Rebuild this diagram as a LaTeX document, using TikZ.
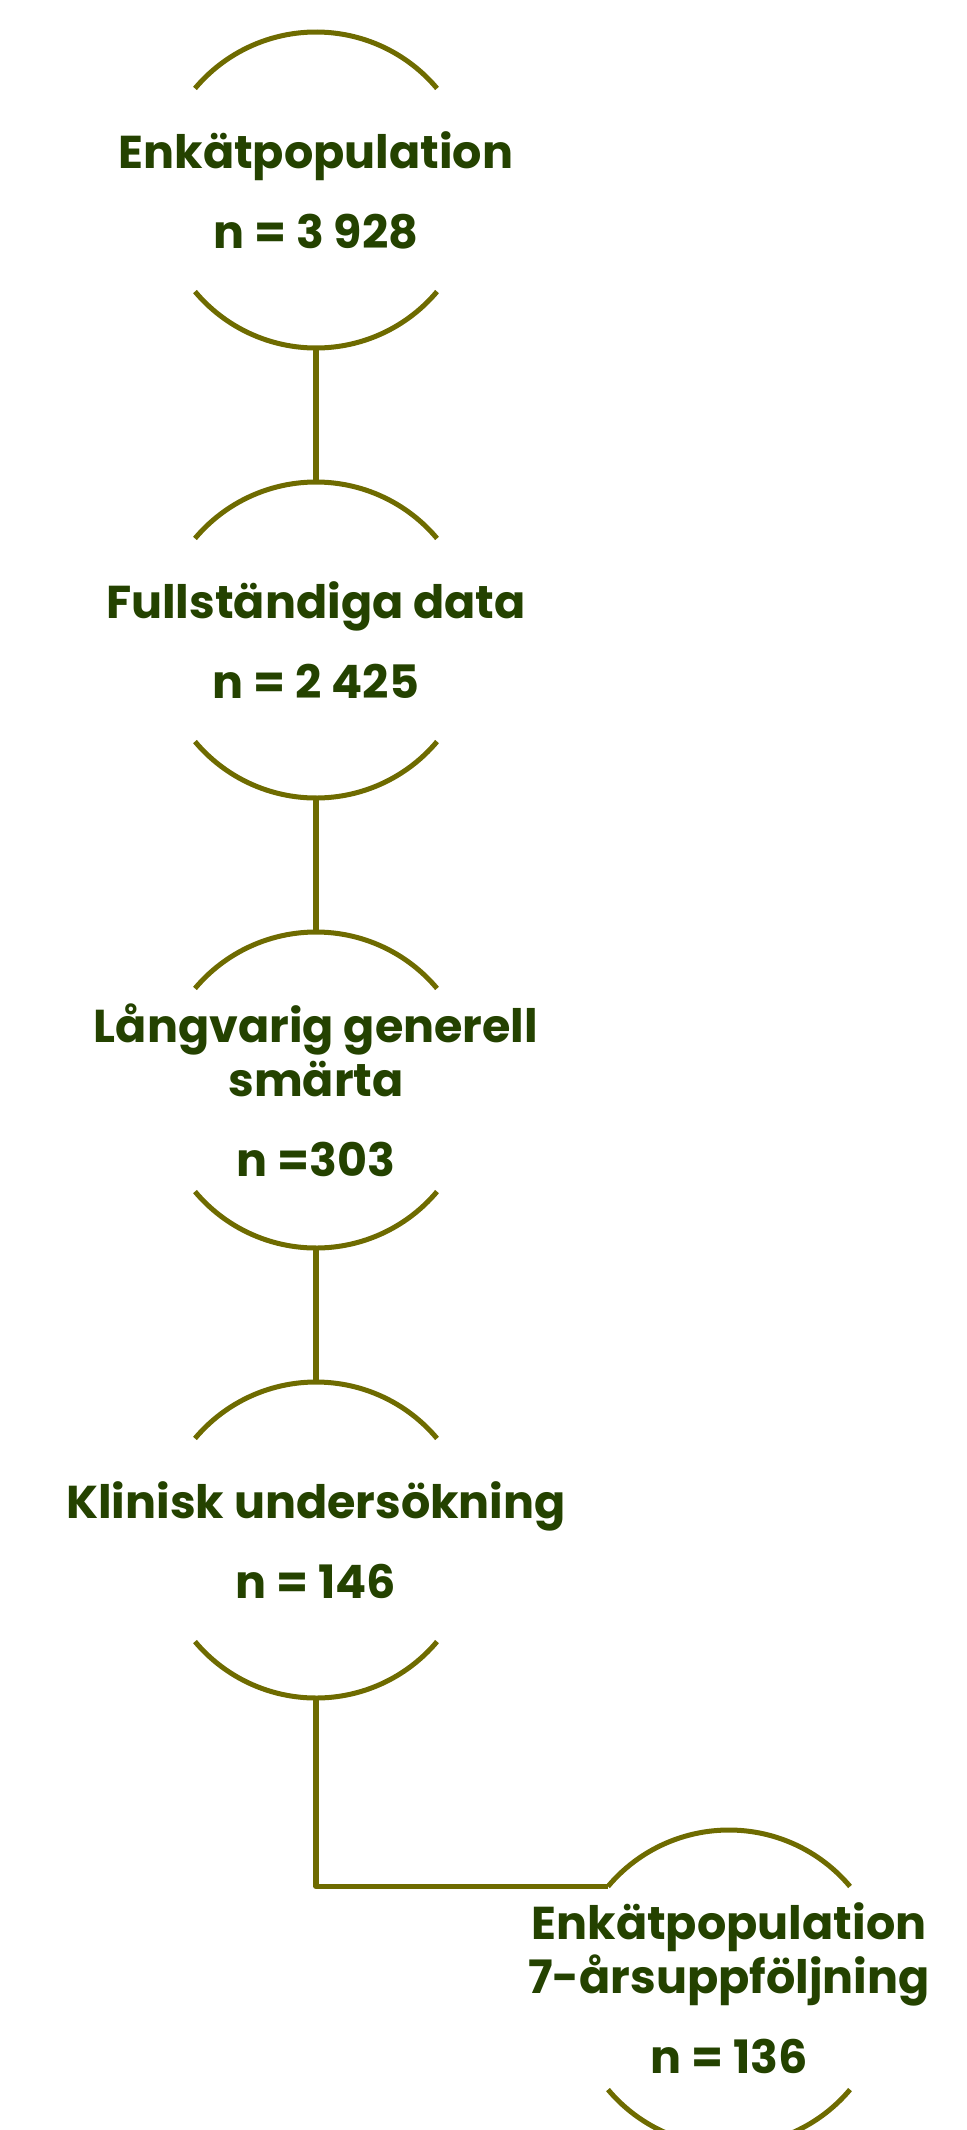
\documentclass[tikz,border=0pt]{standalone}
\usepackage{fontspec}
\setmainfont{Poppins}
\usepackage{xcolor}
\definecolor{olive-line}{HTML}{6E6B00}
\definecolor{moss}{HTML}{244200}
\usetikzlibrary{positioning}
\tikzset{
    ring/.style ={circle, minimum size = 6.32cm, inner sep=0pt, outer sep=0pt},
    rim/.style = {olive-line, line width=2.85pt},
    link/.style = {olive-line, line width=2.85pt, line join=round},
    caption/.style = {moss, font=\bfseries\fontsize{26.2}{31}\selectfont, align=center, inner sep=0pt}
}

\begin{document}
\begin{tikzpicture}
      \useasboundingbox (0,0) rectangle (19.34,-42.6);
      \node[ring] (enkat) at (6.32,-3.8) {};
      \node[ring] (fullst) at (6.32,-12.8) {};
      \node[ring] (langv) at (6.32,-21.8) {};
      \node[ring] (klinisk) at (6.32,-30.8) {};
      \node[ring] (uppf) at (14.58,-39.76) {};

      \node[caption] (enkat-t) at (enkat) {Enkätpopulation\\[14.5pt]n = 3 928};
      \node[caption] (fullst-t) at (fullst) {Fullständiga data\\[14.5pt]n = 2 425};
      \node[caption] (langv-t) at (langv) {Långvarig generell\\smärta\\[14.5pt]n =303};
      \node[caption] (klinisk-t) at (klinisk) {Klinisk undersökning\\[14.5pt]n = 146};
      \node[caption] (uppf-t) at (uppf) {Enkätpopulation\\7-årsuppföljning\\[14.5pt]n = 136};

      \foreach \n in {enkat,fullst,langv,klinisk,uppf} {
        \draw[rim] (\n.140) arc[start angle=140, end angle=40, radius=3.16cm];
        \draw[rim] (\n.220) arc[start angle=220, end angle=320, radius=3.16cm];
      }

      \draw[link] (enkat.south) -- (fullst.north);
      \draw[link] (fullst.south) -- (langv.north);
      \draw[link] (langv.south) -- (klinisk.north);
      \draw[link] (klinisk.south) |- (uppf.140);
\end{tikzpicture}
\end{document}
